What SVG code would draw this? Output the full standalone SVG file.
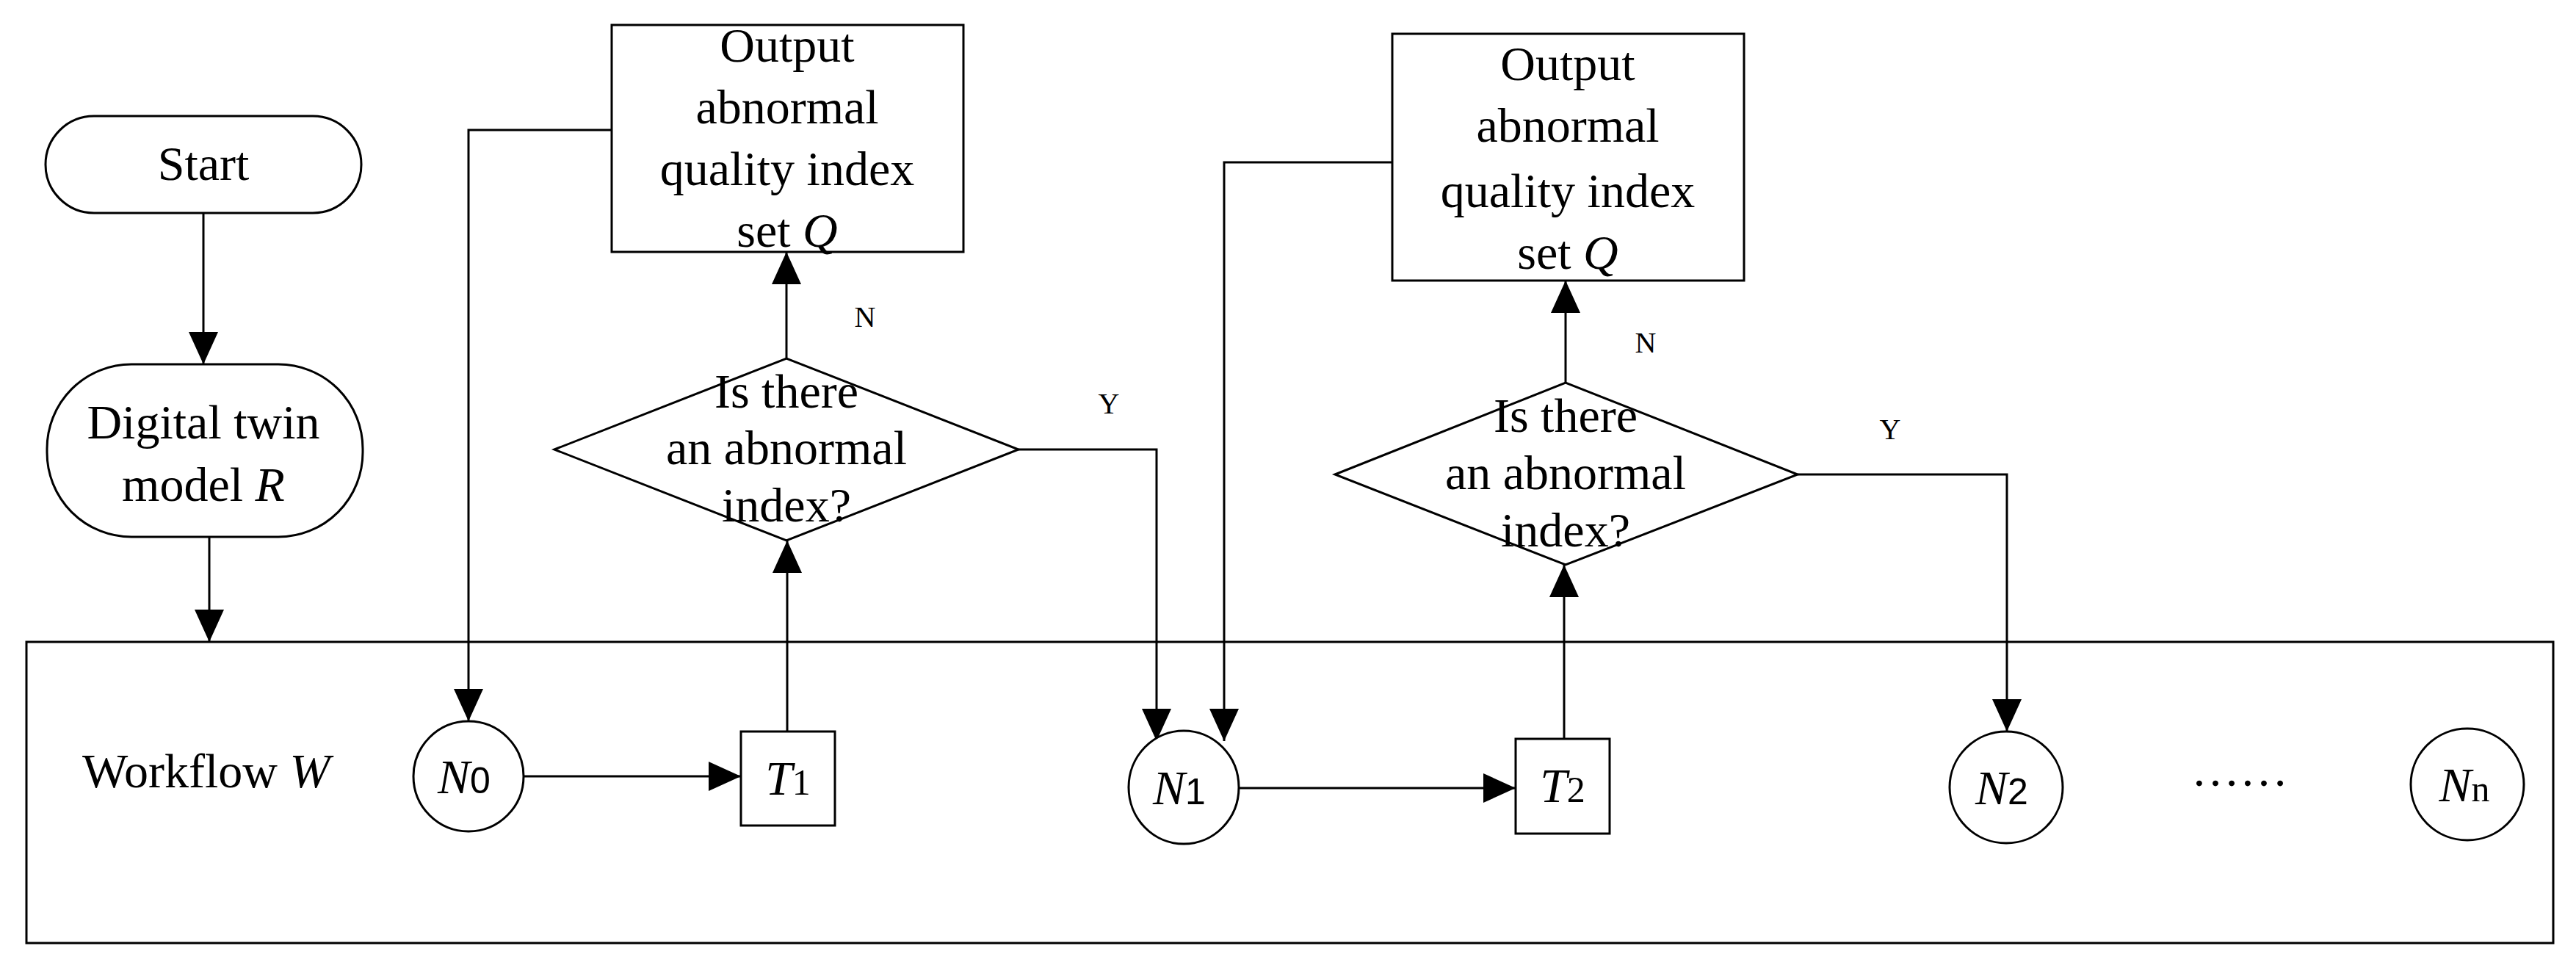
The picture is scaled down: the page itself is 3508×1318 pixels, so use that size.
<svg xmlns="http://www.w3.org/2000/svg" width="3508" height="1318" viewBox="0 0 3508 1318">
<style>
.s{fill:none;stroke:#000;stroke-width:3}
.n{fill:#fff;stroke:#000;stroke-width:3}
text{font-family:"Liberation Serif","Times New Roman",serif;fill:#000}
.t{font-size:66px;text-anchor:middle}
.l{font-size:40px;text-anchor:middle}
.i{font-style:italic}
.sub{font-family:"Liberation Sans",Arial,sans-serif;font-size:50px}
.subs{font-size:50px}
</style>
<defs>
<marker id="a" markerUnits="userSpaceOnUse" markerWidth="44" markerHeight="44" refX="44" refY="20" orient="auto">
<path d="M0,0 L44,20 L0,40 Z" fill="#000"/>
</marker>
</defs>
<rect x="36" y="874" width="3441" height="410" class="s"/>
<g id="connectors" class="s">
<path d="M277,290 V496" marker-end="url(#a)"/>
<path d="M285,731 V874" marker-end="url(#a)"/>
<path d="M833,177 H638 V982" marker-end="url(#a)"/>
<path d="M713,1057 H1009" marker-end="url(#a)"/>
<path d="M1072,996 V736" marker-end="url(#a)"/>
<path d="M1071,488 V343" marker-end="url(#a)"/>
<path d="M1387,612 H1575 V1009" marker-end="url(#a)"/>
<path d="M1896,221 H1667 V1009" marker-end="url(#a)"/>
<path d="M1687,1073 H2064" marker-end="url(#a)"/>
<path d="M2130,1006 V769" marker-end="url(#a)"/>
<path d="M2132,521 V382" marker-end="url(#a)"/>
<path d="M2448,646 H2733 V996" marker-end="url(#a)"/>
</g>
<text x="1178" y="445" class="l">N</text>
<text x="1510" y="563" class="l">Y</text>
<text x="2241" y="480" class="l">N</text>
<text x="2574" y="598" class="l">Y</text>
<g id="start"><rect x="62" y="158" width="430" height="132" rx="66" class="n"/><text x="277" y="245" class="t">Start</text></g>
<g id="twin"><rect x="64" y="496" width="430" height="235" rx="115" class="n"/><text x="277" y="597" class="t">Digital twin</text><text x="277" y="682" class="t">model <tspan class="i">R</tspan></text></g>
<g id="out1"><rect x="833" y="34" width="479" height="309" class="n"/>
<text x="1072" y="84" class="t">Output</text><text x="1072" y="168" class="t">abnormal</text><text x="1072" y="252" class="t">quality index</text><text x="1072" y="336" class="t">set <tspan class="i">Q</tspan></text></g>
<g id="dec1"><path d="M755,612 L1071,488 L1387,612 L1071,736 Z" class="n"/>
<text x="1071" y="555" class="t">Is there</text><text x="1071" y="632" class="t">an abnormal</text><text x="1071" y="710" class="t">index?</text></g>
<g id="out2"><rect x="1896" y="46" width="479" height="336" class="n"/>
<text x="2135" y="109" class="t">Output</text><text x="2135" y="193" class="t">abnormal</text><text x="2135" y="282" class="t">quality index</text><text x="2135" y="366" class="t">set <tspan class="i">Q</tspan></text></g>
<g id="dec2"><path d="M1818,646 L2132,521 L2448,646 L2132,769 Z" class="n"/>
<text x="2132" y="588" class="t">Is there</text><text x="2132" y="666" class="t">an abnormal</text><text x="2132" y="744" class="t">index?</text></g>
<text x="112" y="1072" font-size="66">Workflow <tspan class="i">W</tspan></text>
<g id="N0"><ellipse cx="638" cy="1057" rx="75" ry="75" class="n"/><text x="632" y="1080" class="t"><tspan class="i">N</tspan><tspan class="sub">0</tspan></text></g>
<g id="T1"><rect x="1009" y="996" width="128" height="128" class="n"/><text x="1073" y="1082" class="t"><tspan class="i">T</tspan><tspan class="subs">1</tspan></text></g>
<g id="N1"><ellipse cx="1612" cy="1072" rx="75" ry="77" class="n"/><text x="1606" y="1095" class="t"><tspan class="i">N</tspan><tspan class="sub">1</tspan></text></g>
<g id="T2"><rect x="2064" y="1006" width="128" height="129" class="n"/><text x="2128" y="1092" class="t"><tspan class="i">T</tspan><tspan class="subs">2</tspan></text></g>
<g id="N2"><ellipse cx="2732" cy="1072" rx="77" ry="76" class="n"/><text x="2726" y="1095" class="t"><tspan class="i">N</tspan><tspan class="sub">2</tspan></text></g>
<text x="3050" y="1070" class="t">……</text>
<g id="Nn"><ellipse cx="3360" cy="1068" rx="77" ry="76" class="n"/><text x="3356" y="1091" class="t"><tspan class="i">N</tspan><tspan class="subs">n</tspan></text></g>
</svg>
